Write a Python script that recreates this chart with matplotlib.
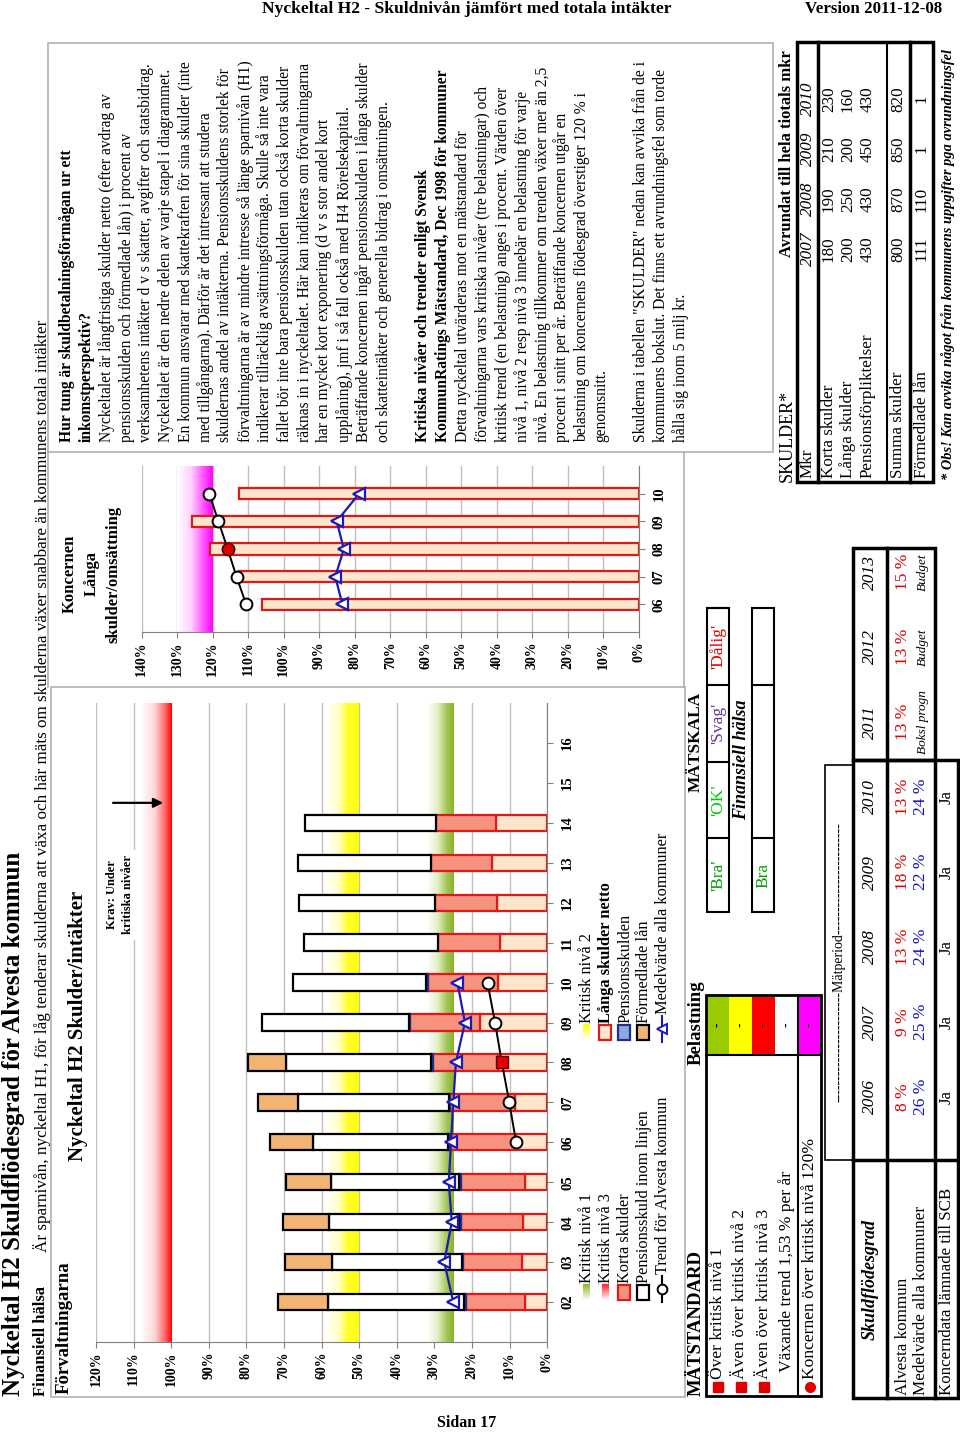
import numpy as np
import matplotlib.pyplot as plt
from matplotlib.colors import LinearSegmentedColormap
from matplotlib.patches import Rectangle

plt.rcParams['font.family'] = ['Liberation Serif', 'DejaVu Serif']

# ---- Förvaltningarna, procent av intäkter ----
years = [2, 3, 4, 5, 6, 7, 8, 9, 10, 11, 12, 13, 14]
year_ticks = list(range(2, 17))
langa_netto = [5.9, 6.6, 6.4, 5.9, 8.2, 8.6, 13.0, 17.9, 13.0, 12.6, 13.5, 14.7, 13.7]
korta = [15.6, 15.7, 16.6, 17.1, 17.7, 17.3, 17.3, 18.6, 18.8, 16.4, 16.4, 16.2, 16.0]
pensionsskuld = [0.6, 0.4, 0.4, 0.4, 0.4, 0.3, 0.5, 0.4, 0.5, 0, 0, 0, 0]
pension_inom = [36.1, 34.5, 34.7, 34.2, 35.9, 40.1, 38.7, 39.0, 35.3, 35.6, 36.1, 35.3, 34.7]
formedlade = [13.3, 12.6, 12.3, 11.9, 11.5, 10.6, 10.1, 0, 0, 0, 0, 0, 0]
medel_years = [2, 3, 4, 5, 6, 7, 8, 9, 10]
medel = [25.0, 27.4, 25.4, 26.2, 25.6, 25.0, 24.3, 21.9, 23.9]
trend_years = [6, 7, 8, 9, 10]
trend = [8.3, 10.1, 12.1, 13.9, 15.9]

# ---- Koncernen, långa skulder / omsättning ----
kon_years = [6, 7, 8, 9, 10]
kon_langa = [106.1, 112.6, 120.8, 125.9, 112.7]
kon_medel = [83.5, 85.5, 83.1, 85.1, 78.8]
kon_trend = [110.6, 113.3, 115.8, 118.4, 121.0]

# ---- tabeller ----
sfg_years = ['2006', '2007', '2008', '2009', '2010', '2011', '2012', '2013']
alvesta_pct = [8, 9, 13, 18, 13, 13, 13, 15]
medel_pct = [26, 25, 24, 22, 24]
medel_notes = ['Boksl progn', 'Budget', 'Budget']
koncern_ja = ['Ja', 'Ja', 'Ja', 'Ja', 'Ja']

sk_years = ['2007', '2008', '2009', '2010']
sk_rows = ['Korta skulder', 'Långa skulder', 'Pensionsförpliktelser',
           'Summa skulder', 'Förmedlade lån']
sk_vals = [[180, 190, 210, 230],
           [200, 250, 200, 160],
           [430, 430, 450, 430],
           [800, 870, 850, 820],
           [111, 110, 1, 1]]

text_lines = [
    ('Hur tung är skuldbetalningsförmågan ur ett', 'bold'),
    ('inkomstperspektiv?', 'bold'),
    ('Nyckeltalet är långfristiga skulder netto (efter avdrag av', 'normal'),
    ('pensionsskulden och förmedlade lån) i procent av', 'normal'),
    ('verksamhetens intäkter d v s skatter, avgifter och statsbidrag.', 'normal'),
    ('Nyckeltalet är den nedre delen av varje stapel i diagrammet.', 'normal'),
    ('En kommun ansvarar med skattekraften för sina skulder (inte', 'normal'),
    ('med tillgångarna). Därför är det intressant att studera', 'normal'),
    ('skuldernas andel av intäkterna. Pensionsskuldens storlek för', 'normal'),
    ('förvaltningarna är av mindre intresse så länge sparnivån (H1)', 'normal'),
    ('indikerar tillräcklig avsättningsförmåga. Skulle så inte vara', 'normal'),
    ('fallet bör inte bara pensionsskulden utan också korta skulder', 'normal'),
    ('räknas in i nyckeltalet. Här kan indikeras om förvaltningarna', 'normal'),
    ('har en mycket kort exponering (d v s stor andel kort', 'normal'),
    ('upplåning), jmf i så fall också med H4 Rörelsekapital.', 'normal'),
    ('Beträffande koncernen ingår pensionsskulden i långa skulder', 'normal'),
    ('och skatteintäkter och generella bidrag i omsättningen.', 'normal'),
    ('', 'normal'),
    ('Kritiska nivåer och trender enligt Svensk', 'bold'),
    ('KommunRatings Mätstandard, Dec 1998 för kommuner', 'bold'),
    ('Detta nyckeltal utvärderas mot en mätstandard för', 'normal'),
    ('förvaltningarna vars kritiska nivåer (tre belastningar) och', 'normal'),
    ('kritisk trend (en belastning) anges i procent. Värden över', 'normal'),
    ('nivå 1, nivå 2 resp nivå 3 innebär en belastning för varje', 'normal'),
    ('nivå. En belastning tillkommer om trenden växer mer än 2,5', 'normal'),
    ('procent i snitt per år. Beträffande koncernen utgår en', 'normal'),
    ('belastning om koncernens flödesgrad överstiger 120 % i', 'normal'),
    ('genomsnitt.', 'normal'),
    ('', 'normal'),
    ('Skulderna i tabellen "SKULDER" nedan kan avvika från de i', 'normal'),
    ('kommunens bokslut. Det finns ett avrundningsfel som torde', 'normal'),
    ('hålla sig inom 5 milj kr.', 'normal'),
]

PEACH, SALMON, TAN = '#FDE6CC', '#F7927F', '#F1B473'
RED_EDGE, BLUE = '#E01818', '#1A1AB4'
GRID = '#BFBFBF'

W, H = 960, 1436
fig = plt.figure(figsize=(W / 100, H / 100), dpi=100)
page = fig.add_axes([0, 0, 1, 1])
page.axis('off')


def rect(x0, x1, y0, y1):
    return [x0 / W, 1 - y1 / H, (x1 - x0) / W, (y1 - y0) / H]


def vtext(x, y, s, anchor='start', size=10, **kw):
    va = {'start': 'bottom', 'center': 'center', 'end': 'top'}[anchor]
    page.text(x, y, s, rotation=90, ha='center', va=va, fontsize=size, **kw)


def line(x0, x1, y0, y1, lw=1.0, color='black'):
    page.plot([x0, x1], [y0, y1], color=color, lw=lw, solid_capstyle='projecting')


def frame(x0, x1, y0, y1, lw=1.0, color='black', fc='none'):
    page.add_patch(Rectangle((x0, y0), x1 - x0, y1 - y0, fill=fc != 'none',
                             facecolor=fc, edgecolor=color, lw=lw))


def ramp(colors):
    return LinearSegmentedColormap.from_list('ramp', colors)


def band(ax, x_white, x_col, y0, y1, cmap):
    grad = np.linspace(0, 1, 256).reshape(1, -1)
    ax.imshow(grad, extent=(x_white, x_col, y0, y1), cmap=cmap,
              aspect='auto', zorder=1, interpolation='bilinear')


def stack(ax, ys, vals, left, fc, ec, h):
    ys, vals, left = np.asarray(ys), np.asarray(vals), np.asarray(left)
    m = vals > 0
    ax.barh(ys[m], vals[m], left=left[m], height=h, color=fc,
            edgecolor=ec, lw=1.6, zorder=2)


def style_axis(ax, xmax, ylo, yhi, yt):
    ax.set_facecolor('none')
    ax.set_axisbelow(True)
    ax.xaxis.grid(True, color=GRID, lw=1)
    ax.set_xlim(xmax, 0)
    ax.set_ylim(ylo, yhi)
    ax.set_xticks(range(0, xmax + 1, 10))
    ax.set_xticklabels([f'{v}%' for v in range(0, xmax + 1, 10)],
                       rotation=90, fontweight='bold', fontsize=10)
    ax.yaxis.tick_right()
    ax.set_yticks(yt)
    ax.set_yticklabels([f'{v:02d}' for v in yt], rotation=90,
                       fontweight='bold', fontsize=10.5, va='center')
    ax.tick_params(axis='x', direction='out', length=4, color='#808080', pad=3)
    ax.tick_params(axis='y', direction='out', length=4, color='#808080', pad=6)
    for s in ('left', 'top'):
        ax.spines[s].set_visible(False)
    for s in ('right', 'bottom'):
        ax.spines[s].set_color('#808080')


RED_RAMP = ramp([(0, 'white'), (0.45, '#ffd6d6'), (0.8, '#ff6060'), (1, '#ff0000')])
YEL_RAMP = ramp([(0, 'white'), (0.4, '#ffffc8'), (0.65, '#ffff30'), (1, '#ffff00')])
GRN_RAMP = ramp([(0, 'white'), (0.4, '#e2eec4'), (0.75, '#a3c552'), (1, '#86b22a')])
MAG_RAMP = ramp([(0, 'white'), (0.4, '#ffd0ff'), (0.75, '#ff50ff'), (1, '#ff00ff')])

# ---------- main chart ----------
ax = fig.add_axes(rect(96, 547.3, 703, 1342))
style_axis(ax, 120, 1, 17, year_ticks)
band(ax, 108, 100, 1, 17, RED_RAMP)
band(ax, 59, 50, 1, 17, YEL_RAMP)
band(ax, 32, 25, 1, 17, GRN_RAMP)

segs = [(langa_netto, PEACH, RED_EDGE), (korta, SALMON, RED_EDGE),
        (pensionsskuld, '#8EA9DB', '#1F2F8F'), (pension_inom, 'white', 'black'),
        (formedlade, TAN, 'black')]
left = np.zeros(len(years))
for vals, fc, ec in segs:
    stack(ax, years, vals, left, fc, ec, 0.41)
    left = left + np.asarray(vals)

ax.plot(medel, medel_years, color=BLUE, lw=1.6, marker='<', ms=8,
        mfc='white', mec=BLUE, mew=1.6, zorder=4)
ax.plot(trend, trend_years, color='black', lw=1.4, marker='o', ms=8.5,
        mfc='white', mec='black', mew=1.4, markevery=[0, 1, 3, 4], zorder=4)
ax.plot(trend[2], trend_years[2], marker='s', ms=8, mfc='#E00000', mec='#600000', zorder=5)

ax.annotate('', xy=(101.4, 14.5), xytext=(116.2, 14.5),
            arrowprops=dict(arrowstyle='-|>', color='black', lw=1.6,
                            mutation_scale=14), zorder=5)
ax.text(113.6, 12.2, 'Krav: Under\nkritiska nivåer', rotation=90, ha='center',
        va='center', fontsize=9, fontweight='bold', linespacing=1.45,
        bbox=dict(fc='white', ec='none', pad=4), zorder=5)

# ---------- Koncernen chart ----------
kx = fig.add_axes(rect(141.7, 639, 466, 632))
style_axis(kx, 140, 5, 11, kon_years)
band(kx, 130, 120, 5, 11, MAG_RAMP)
kx.barh(kon_years, kon_langa, height=0.42, color=PEACH, edgecolor=RED_EDGE,
        lw=1.6, zorder=2)
kx.plot(kon_medel, kon_years, color=BLUE, lw=1.6, marker='<', ms=8,
        mfc='white', mec=BLUE, mew=1.6, zorder=4)
kx.plot(kon_trend, kon_years, color='black', lw=1.4, marker='o', ms=8.5,
        mfc='white', mec='black', mew=1.4, zorder=4)
kx.plot(kon_trend[2], kon_years[2], marker='o', ms=8.5, mfc='#E00000',
        mec='#600000', zorder=5)

# ---------- page frames and headings ----------
gray = '#B0B0B0'
frame(51, 685, 687, 1397, lw=1.2, color=gray)
frame(48, 773, 43, 452, lw=1.2, color=gray)
line(48, 48, 452, 687, lw=1.2, color=gray)
line(684, 684, 452, 687, lw=1.2, color=gray)

page.text(262, 9, 'Nyckeltal H2 - Skuldnivån jämfört med totala intäkter',
          ha='left', va='center', fontsize=12.6, fontweight='bold')
page.text(942, 9, 'Version 2011-12-08', ha='right', va='center',
          fontsize=12.2, fontweight='bold')
page.text(467, 1423, 'Sidan 17', ha='center', va='center', fontsize=11.5,
          fontweight='bold')

vtext(14, 1396, 'Nyckeltal H2 Skuldflödesgrad för Alvesta kommun', size=18,
      fontweight='bold')
vtext(41, 1396, 'Finansiell hälsa', size=12, fontweight='bold')
vtext(42, 1252, 'Är sparnivån, nyckeltal H1, för låg tenderar skulderna att växa '
      'och här mäts om skulderna växer snabbare än kommunens totala intäkter',
      size=12.3)
vtext(64, 1394, 'Förvaltningarna', size=13.5, fontweight='bold')
vtext(78, 1026, 'Nyckeltal H2 Skulder/intäkter', anchor='center', size=15,
      fontweight='bold')
for i, s in enumerate(['Koncernen', 'Långa', 'skulder/omsättning']):
    vtext(70 + 21.5 * i, 574, s, anchor='center', size=12, fontweight='bold')

# ---------- text block ----------
for i, (s, w) in enumerate(text_lines):
    if s:
        vtext(67 + 19.8 * i, 442, s, size=11.2, fontweight=w)

# ---------- legend ----------
lx = [586, 605, 624, 643, 662]


def grad_swatch(x, yb, color):
    cmap = ramp(['white', color])
    g = np.linspace(0, 1, 64).reshape(-1, 1)
    page.imshow(g, extent=(x - 3.5, x + 3.5, yb, yb - 16), cmap=cmap,
                aspect='auto', origin='lower')


def box_swatch(x, yb, fc, ec):
    page.add_patch(Rectangle((x - 6, yb - 15), 12, 15, facecolor=fc,
                             edgecolor=ec, lw=1.6))


grad_swatch(lx[0], 1300, '#8cb82a')
grad_swatch(lx[1], 1300, '#ff2020')
box_swatch(lx[2], 1300, SALMON, RED_EDGE)
box_swatch(lx[3], 1300, 'white', 'black')
page.plot([lx[4], lx[4]], [1302, 1276], color='black', lw=1.5)
page.plot([lx[4]], [1289], marker='o', ms=7, mfc='white', mec='black', mew=1.4)
col1 = ['Kritisk nivå 1', 'Kritisk nivå 3', 'Korta skulder',
        'Pensionsskuld inom linjen', 'Trend för Alvesta kommun']
for x, s in zip(lx, col1):
    vtext(x + 1, 1283 if s[0] != 'T' else 1274, s, size=11.8)

grad_swatch(lx[0], 1040, '#ffff00')
box_swatch(lx[1], 1040, PEACH, RED_EDGE)
box_swatch(lx[2], 1040, '#8EA9DB', '#1F2F8F')
box_swatch(lx[3], 1040, TAN, 'black')
page.plot([lx[4], lx[4]], [1042, 1016], color=BLUE, lw=1.5)
page.plot([lx[4]], [1029], marker='<', ms=7, mfc='white', mec=BLUE, mew=1.4)
col2 = ['Kritisk nivå 2', 'Långa skulder netto', 'Pensionsskulden',
        'Förmedlade lån', 'Medelvärde alla kommuner']
for x, s in zip(lx, col2):
    vtext(x + 1, 1023 if s[0] != 'M' else 1014, s, size=11.8,
          fontweight='bold' if s.startswith('Långa') else 'normal')

# ---------- MÄTSTANDARD ----------
vtext(696, 1396, 'MÄTSTANDARD', size=13.5, fontweight='bold')
vtext(696, 1023, 'Belastning', anchor='center', size=13.5, fontweight='bold')
belast_colors = ['#99CC00', '#FFFF00', '#FF0000', 'white', '#FF00FF']
rows_x = [706, 729, 752, 775, 798, 821]
for i, c in enumerate(belast_colors):
    frame(rows_x[i], rows_x[i + 1], 995, 1055, lw=0, color='none', fc=c)
    vtext((rows_x[i] + rows_x[i + 1]) / 2, 1025, '-', anchor='center', size=10)
frame(706, 821, 995, 1396, lw=2)
line(706, 821, 1055, 1055, lw=1.5)
line(798, 798, 995, 1396, lw=1.5)
std_rows = ['Över kritisk nivå 1', 'Även över kritisk nivå 2',
            'Även över kritisk nivå 3', 'Växande trend 1,53 % per år',
            'Koncernen över kritisk nivå 120%']
for i, s in enumerate(std_rows):
    xc = (rows_x[i] + rows_x[i + 1]) / 2
    if i < 3:
        page.plot([xc], [1387], marker='s', ms=7, color='#E00000')
    elif i == 4:
        page.plot([xc], [1387], marker='o', ms=7, color='#E00000')
    vtext(xc, 1379 if i != 3 else 1372, s, size=12.6)

# ---------- MÄTSKALA ----------
vtext(696, 742, 'MÄTSKALA', anchor='center', size=12.5, fontweight='bold')
skala_y = [912, 838, 762, 685, 608]
skala = [("'Bra'", '#00A000'), ("'OK'", '#00CC00'), ("'Svag'", '#7030A0'),
         ("'Dålig'", '#E00000')]
for i, (s, c) in enumerate(skala):
    vtext(718, (skala_y[i] + skala_y[i + 1]) / 2, s, anchor='center', size=12.5, color=c)
    line(707, 729, skala_y[i + 1], skala_y[i + 1], lw=1.5)
frame(707, 729, 608, 912, lw=1.5)
vtext(742, 760, 'Finansiell hälsa', anchor='center', size=13,
      fontweight='bold', style='italic')
frame(752, 774, 608, 912, lw=1.5)
line(752, 774, 838, 838, lw=1.5)
line(752, 774, 685, 685, lw=1.5)
vtext(763, 875, 'Bra', anchor='center', size=12.5, color='#00A000')

# ---------- Skuldflödesgrad table ----------
col_y = [1097, 1022, 947, 872, 797, 722, 647, 572]
frame(825, 853, 765, 1160, lw=1.2)
vtext(839, 962, '-' * 24 + 'Mätperiod' + '-' * 24, anchor='center', size=10)
frame(853, 958, 760, 1398, lw=2.5)
frame(853, 935, 548, 760, lw=2.5)
line(887, 887, 548, 1398, lw=2.5)
line(935, 935, 760, 1398, lw=2.5)
line(853, 958, 1160, 1160, lw=2.5)
vtext(870, 1280, 'Skuldflödesgrad', anchor='center', size=13,
      fontweight='bold', style='italic')
vtext(903, 1395, 'Alvesta kommun', size=12.3)
vtext(921, 1395, 'Medelvärde alla kommuner', size=12.3)
vtext(947, 1395, 'Koncerndata lämnade till SCB', size=12.2)
for i, yv in enumerate(col_y):
    vtext(870, yv, sfg_years[i], anchor='center', size=12.5, style='italic')
    vtext(903, yv, f'{alvesta_pct[i]} %', anchor='center', size=12.5, color='#E00000')
    if i < 5:
        vtext(921, yv, f'{medel_pct[i]} %', anchor='center', size=12.5, color='#1010C0')
        vtext(947, yv, koncern_ja[i], anchor='center', size=12)
    else:
        vtext(923, yv, medel_notes[i - 5], anchor='center', size=9.5, style='italic')

# ---------- SKULDER table ----------
vtext(787, 482, 'SKULDER*', size=13)
vtext(787, 50, 'Avrundat till hela tiotals mkr', anchor='end', size=12,
      fontweight='bold')
frame(797, 933, 42, 482, lw=2.5)
line(818, 818, 42, 482, lw=2.5)
line(887, 887, 42, 482, lw=1.5)
line(910, 910, 42, 482, lw=2.5)
sk_col = [249, 199, 149, 99]
sk_x = [829, 848, 868, 898, 922]
vtext(808, 478, 'Mkr', size=12.3)
for j, yv in enumerate(sk_col):
    vtext(808, yv, sk_years[j], anchor='center', size=12.3, style='italic')
for i, r in enumerate(sk_rows):
    vtext(sk_x[i], 478, r, size=12.3)
    for j, yv in enumerate(sk_col):
        vtext(sk_x[i], yv, str(sk_vals[i][j]), anchor='center', size=12.3)
vtext(948, 480, '* Obs! Kan avvika något från kommunens uppgifter pga avrundningsfel',
      size=10.4, fontweight='bold', style='italic')

page.set_xlim(0, W)
page.set_ylim(H, 0)
fig.savefig('out.png', dpi=100)
